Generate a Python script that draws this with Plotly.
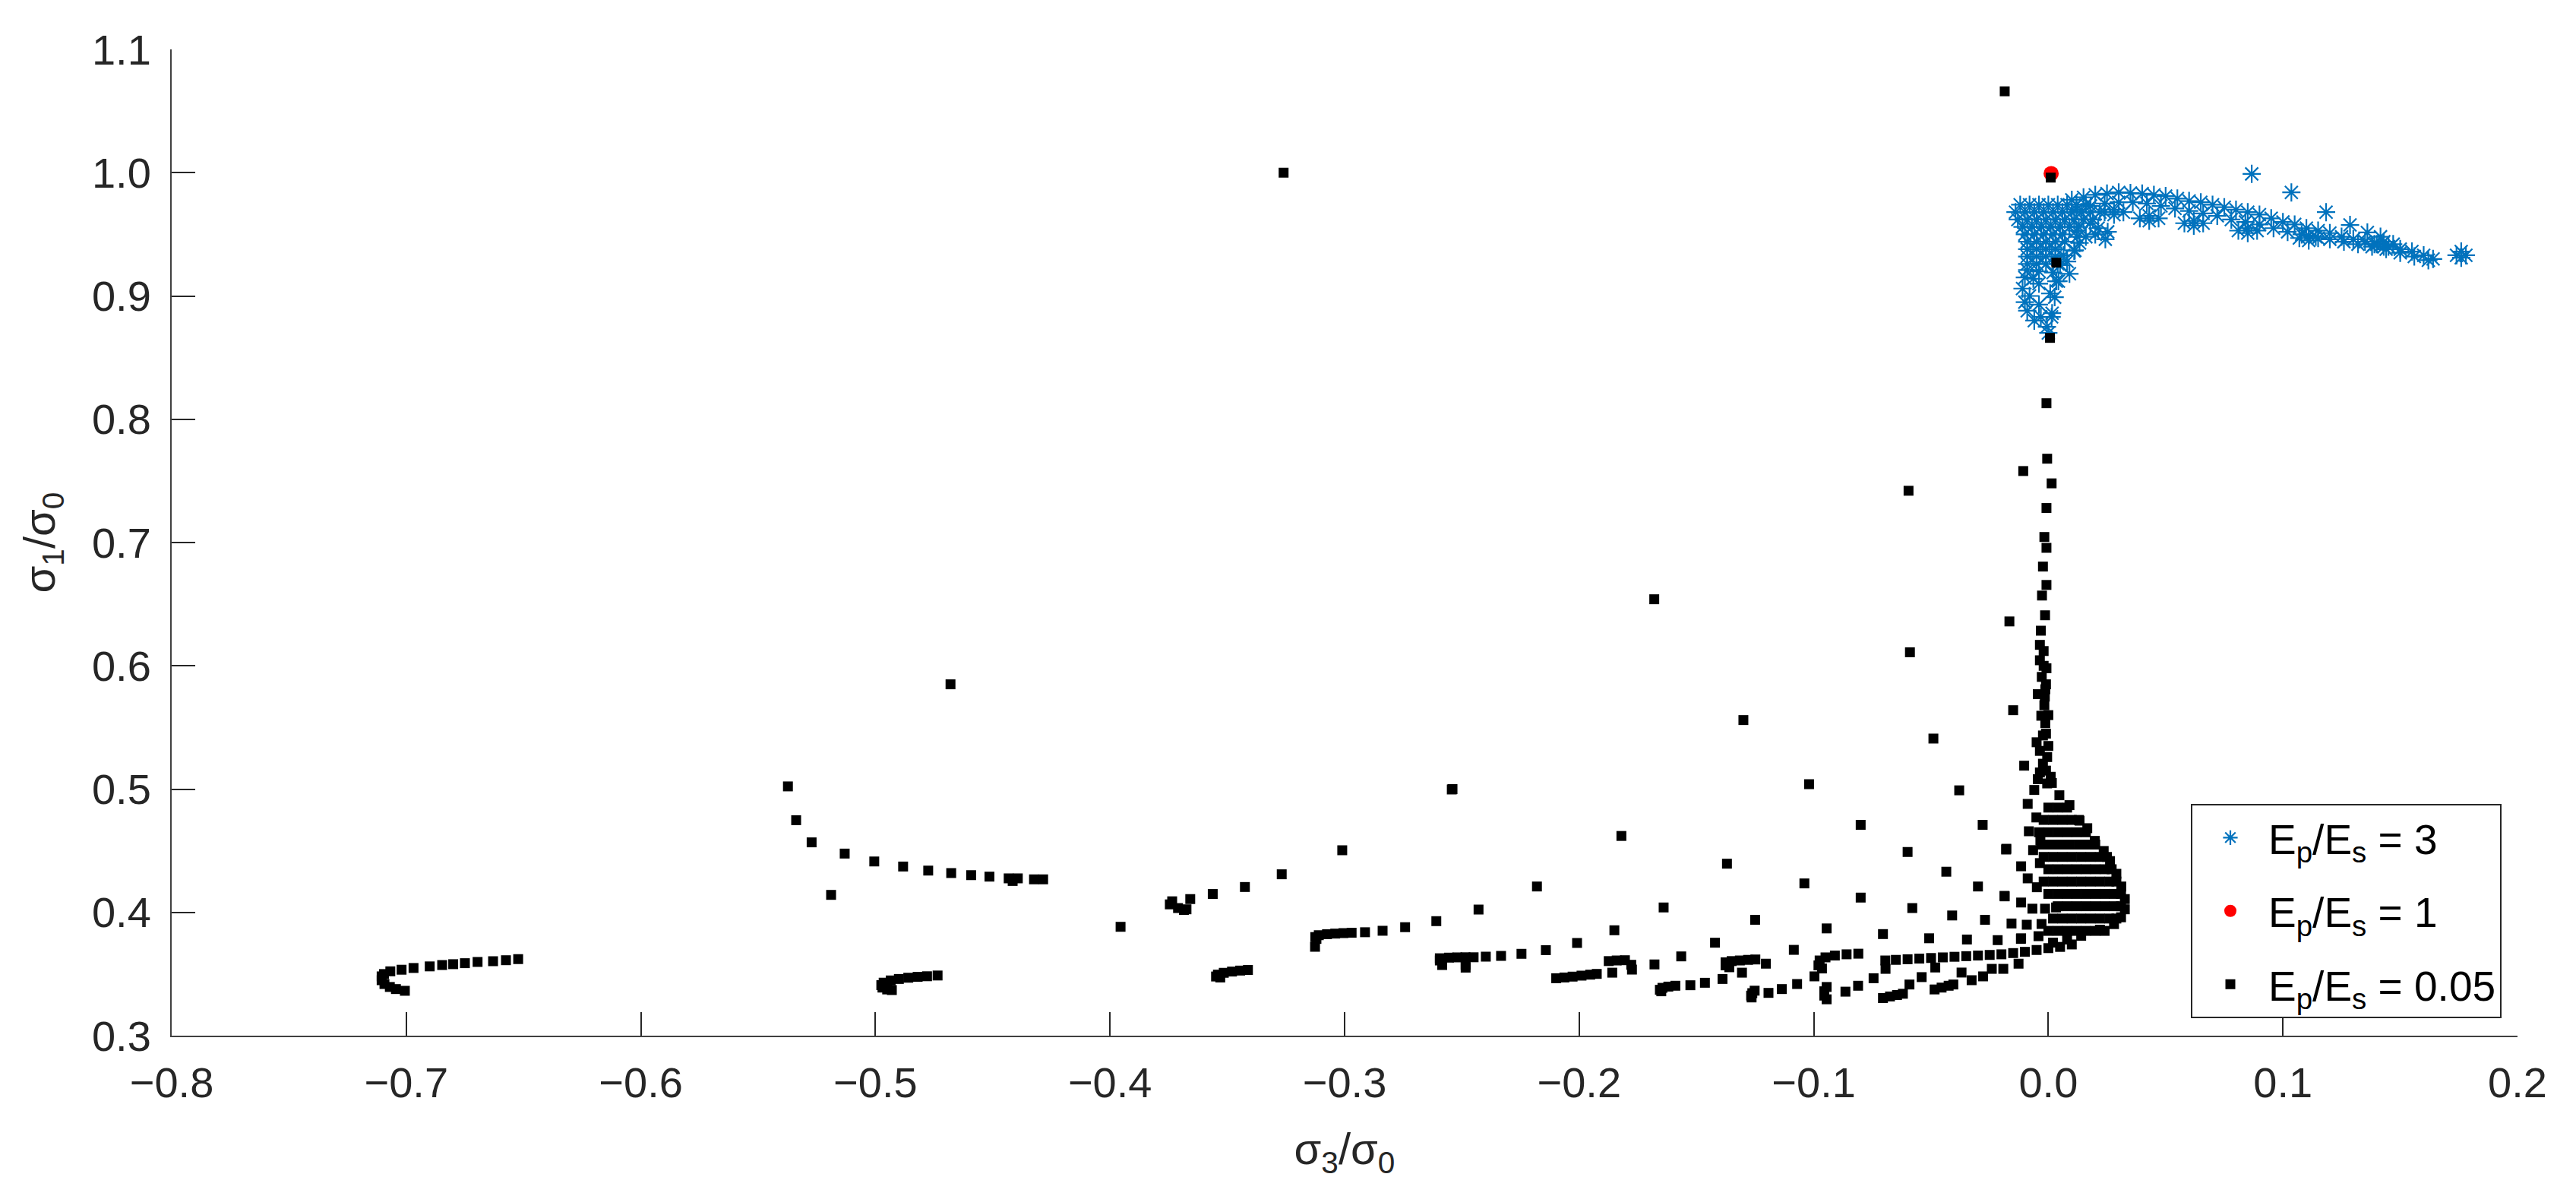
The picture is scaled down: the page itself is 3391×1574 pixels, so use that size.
import plotly.graph_objects as go

# ---- axis ticks -------------------------------------------------------------
x_ticks = [-0.8, -0.7, -0.6, -0.5, -0.4, -0.3, -0.2, -0.1, 0.0, 0.1, 0.2]
x_ticklabels = ["\u22120.8", "\u22120.7", "\u22120.6", "\u22120.5", "\u22120.4", "\u22120.3",
                "\u22120.2", "\u22120.1", "0.0", "0.1", "0.2"]
y_ticks = [0.3, 0.4, 0.5, 0.6, 0.7, 0.8, 0.9, 1.0, 1.1]
y_ticklabels = ["0.3", "0.4", "0.5", "0.6", "0.7", "0.8", "0.9", "1.0", "1.1"]

# ---- Ep/Es = 3 (blue asterisks) ---------------------------------------------
blob_x = [-0.012, -0.008, -0.004, 0.000, 0.004, 0.008, 0.012, 0.016,
          -0.014, -0.010, -0.006, -0.002, 0.002, 0.006, 0.010, 0.014, 0.018, 0.022,
          -0.013, -0.009, -0.005, -0.001, 0.003, 0.007, 0.011, 0.015, 0.019,
          -0.011, -0.007, -0.003, 0.001, 0.005, 0.009, 0.013,
          -0.010, -0.006, -0.002, 0.002, 0.006,
          -0.009, -0.005, -0.001, 0.003, 0.007,
          -0.009, -0.005, -0.001, 0.003,
          -0.009, -0.005, -0.001, 0.003,
          -0.009, -0.005, -0.001, 0.004]
blob_y = [0.974, 0.974, 0.974, 0.974, 0.974, 0.974, 0.974, 0.974,
          0.968, 0.968, 0.968, 0.968, 0.968, 0.968, 0.968, 0.968, 0.968, 0.968,
          0.962, 0.962, 0.962, 0.962, 0.962, 0.962, 0.962, 0.962, 0.962,
          0.956, 0.956, 0.956, 0.956, 0.956, 0.956, 0.956,
          0.950, 0.950, 0.950, 0.950, 0.950,
          0.944, 0.944, 0.944, 0.944, 0.944,
          0.938, 0.938, 0.938, 0.938,
          0.932, 0.932, 0.932, 0.932,
          0.926, 0.926, 0.926, 0.926]

tail_x = [-0.009, -0.004, 0.002, -0.010, -0.0064, 0.0034, -0.004, -0.011, 0.0008, -0.008,
          -0.010, -0.004, -0.009, -0.0032, 0.0014, -0.006, -0.0006, 0.0, 0.0043, 0.0027, 0.0016]
tail_y = [0.921, 0.920, 0.919, 0.915, 0.914, 0.912, 0.910, 0.906, 0.902, 0.900,
          0.895, 0.893, 0.888, 0.883, 0.883, 0.880, 0.875, 0.870, 0.912, 0.899, 0.886]

arc_x = [0.010, 0.015, 0.020, 0.025, 0.030, 0.035, 0.040, 0.045, 0.050, 0.055, 0.060, 0.065,
         0.070, 0.075, 0.080, 0.085, 0.090, 0.095, 0.100, 0.105, 0.110, 0.115, 0.120, 0.125,
         0.130, 0.135, 0.140, 0.145, 0.150, 0.155, 0.160, 0.164,
         0.012, 0.018, 0.024, 0.030, 0.036, 0.042, 0.048, 0.054, 0.060, 0.066, 0.072, 0.078,
         0.084, 0.090, 0.096, 0.102, 0.108, 0.114, 0.120, 0.126, 0.132, 0.138, 0.144, 0.150,
         0.156, 0.162]
arc_y = [0.978, 0.980, 0.982, 0.983, 0.984, 0.9835, 0.983, 0.982, 0.981, 0.979, 0.977, 0.976,
         0.974, 0.972, 0.970, 0.968, 0.966, 0.963, 0.960, 0.958, 0.955, 0.953, 0.951, 0.948,
         0.946, 0.944, 0.942, 0.940, 0.938, 0.936, 0.933, 0.930,
         0.970, 0.973, 0.975, 0.976, 0.976, 0.975, 0.973, 0.971, 0.969, 0.967, 0.965, 0.962,
         0.960, 0.958, 0.955, 0.952, 0.950, 0.948, 0.946, 0.944, 0.942, 0.940, 0.938, 0.935,
         0.932, 0.929]

clump_x = [0.024, 0.028, 0.032, 0.028, 0.039, 0.043, 0.047, 0.043, 0.058, 0.062, 0.066, 0.062,
           0.081, 0.085, 0.089, 0.085, 0.107, 0.111, 0.115, 0.111, 0.139, 0.143, 0.147, 0.143,
           0.174, 0.176, 0.178, 0.176]
clump_y = [0.968, 0.970, 0.968, 0.966, 0.963, 0.965, 0.963, 0.961, 0.959, 0.961, 0.959, 0.957,
           0.953, 0.955, 0.953, 0.951, 0.947, 0.949, 0.947, 0.945, 0.942, 0.944, 0.942, 0.940,
           0.933, 0.936, 0.933, 0.931]

scatter3_x = [0.0867, 0.1036, 0.1184, 0.1286, 0.136, 0.1416,
              0.012, 0.0133, 0.0113, 0.008, 0.0253, 0.0212, 0.0179, 0.016, 0.020, 0.0065, 0.005,
              0.009, 0.0243, 0.0123, 0.011]
scatter3_y = [0.999, 0.984, 0.968, 0.9576, 0.9515, 0.948,
              0.953, 0.943, 0.937, 0.928, 0.952, 0.955, 0.959, 0.948, 0.950, 0.933, 0.925,
              0.918, 0.946, 0.948, 0.9366]

# ---- Ep/Es = 1 (red dot) ----------------------------------------------------
red_x = [0.0012]
red_y = [0.9993]

# ---- Ep/Es = 0.05 (black squares) -------------------------------------------
sparse_x = [-0.0186, -0.326, 0.001, 0.0034, 0.0007, -0.0596, -0.168, -0.0107, -0.0166, -0.059,
            -0.468, -0.130, -0.049, -0.015, -0.0103, -0.102, -0.254, -0.038, -0.182, -0.080,
            -0.028, -0.137, -0.060, -0.018, -0.0435, -0.104, -0.030, -0.218, -0.164, -0.125,
            -0.080, -0.058, -0.041, -0.027, -0.0186, -0.185, -0.0945, -0.0705, -0.0508, -0.0347,
            -0.0216, -0.0117, -0.301]
sparse_y = [1.066, 1.000, 0.996, 0.927, 0.866, 0.742, 0.654, 0.758, 0.636, 0.611,
            0.585, 0.556, 0.541, 0.564, 0.519, 0.504, 0.500, 0.499, 0.462, 0.471,
            0.471, 0.4395, 0.449, 0.451, 0.433, 0.4235, 0.421, 0.421, 0.404, 0.394,
            0.412, 0.4035, 0.3975, 0.394, 0.413, 0.3855, 0.387, 0.3824, 0.379, 0.378,
            0.3775, 0.3785, 0.4504]

spine_x = [-0.0008, -0.0005, 0.0014, -0.0008, -0.0017, -0.0008, -0.0023, -0.0008, -0.0027, -0.0014,
           -0.0032, -0.0036, -0.0020, -0.0036, -0.0008, -0.0028, -0.0013, -0.0045, -0.0017, -0.0030,
           -0.0013, -0.0023, -0.0050, -0.0036, -0.0005, -0.0023, -0.0036, -0.0045, -0.0005, -0.0060,
           -0.001, 0.000, -0.001, 0.001, 0.000, -0.0015, -0.001, -0.002]
spine_y = [0.813, 0.768, 0.748, 0.728, 0.7045, 0.6957, 0.6805, 0.6656, 0.657, 0.641,
           0.6285, 0.617, 0.612, 0.6045, 0.598, 0.591, 0.581, 0.577, 0.568, 0.5595,
           0.5535, 0.5435, 0.538, 0.531, 0.526, 0.5206, 0.5135, 0.508, 0.5046, 0.4993,
           0.545, 0.535, 0.515, 0.510, 0.560, 0.575, 0.585, 0.600]

flare_x = [0.0015, 0.0047, 0.009, 0.0133, 0.0166, 0.0198, 0.0236, 0.0263, 0.029, 0.0311,
           0.0326, 0.0326, 0.031, 0.028, 0.022, 0.014, 0.008, 0.002,
           0.000, 0.004, 0.008,
           -0.002, 0.002, 0.006, 0.010, 0.013,
           -0.004, 0.000, 0.004, 0.008, 0.012, 0.016,
           -0.003, 0.001, 0.005, 0.009, 0.013, 0.017, 0.020,
           -0.002, 0.002, 0.006, 0.010, 0.014, 0.018, 0.022, 0.025,
           0.000, 0.004, 0.008, 0.012, 0.016, 0.020, 0.024, 0.027,
           -0.002, 0.002, 0.006, 0.010, 0.014, 0.018, 0.022, 0.026, 0.029,
           0.000, 0.004, 0.008, 0.012, 0.016, 0.020, 0.024, 0.028, 0.031,
           0.004, 0.008, 0.012, 0.016, 0.020, 0.024, 0.028, 0.031,
           0.002, 0.006, 0.010, 0.014, 0.018, 0.022, 0.026, 0.029,
           0.000, 0.004, 0.008, 0.012, 0.016, 0.020, 0.024]
flare_y = [0.505, 0.495, 0.487, 0.4744, 0.4683, 0.458, 0.4498, 0.4416, 0.4313, 0.421,
           0.4108, 0.4025, 0.396, 0.3905, 0.386, 0.381, 0.378, 0.3755,
           0.485, 0.485, 0.485,
           0.475, 0.475, 0.475, 0.475, 0.475,
           0.465, 0.465, 0.465, 0.465, 0.465, 0.465,
           0.455, 0.455, 0.455, 0.455, 0.455, 0.455, 0.455,
           0.445, 0.445, 0.445, 0.445, 0.445, 0.445, 0.445, 0.445,
           0.435, 0.435, 0.435, 0.435, 0.435, 0.435, 0.435, 0.435,
           0.425, 0.425, 0.425, 0.425, 0.425, 0.425, 0.425, 0.425, 0.425,
           0.415, 0.415, 0.415, 0.415, 0.415, 0.415, 0.415, 0.415, 0.415,
           0.405, 0.405, 0.405, 0.405, 0.405, 0.405, 0.405, 0.405,
           0.395, 0.395, 0.395, 0.395, 0.395, 0.395, 0.395, 0.395,
           0.385, 0.385, 0.385, 0.385, 0.385, 0.385, 0.385]

stair_x = [-0.0088, -0.0051, -0.0083, -0.0034, -0.0179, -0.0065, -0.0116, -0.0036, -0.0088, -0.0049,
           -0.0187, -0.0116, -0.0068, -0.0014, 0.0033, -0.0157, -0.0092, -0.0029, -0.0116, -0.0042]
stair_y = [0.488, 0.477, 0.4658, 0.4584, 0.4516, 0.4505, 0.4374, 0.440, 0.4276, 0.4204,
           0.4134, 0.408, 0.403, 0.403, 0.404, 0.391, 0.390, 0.3906, 0.379, 0.3807]

band_x = [0.010, 0.005, 0.000, -0.005, -0.010, -0.015, -0.020, -0.025, -0.030, -0.035,
          -0.040, -0.045, -0.050, -0.055, -0.060, -0.065, -0.0695,
          -0.081, -0.086, -0.091, -0.095, -0.0975, -0.098, -0.0965]
band_y = [0.374, 0.372, 0.371, 0.3695, 0.368, 0.367, 0.366, 0.3655, 0.365, 0.3645,
          0.364, 0.3635, 0.363, 0.3625, 0.362, 0.3615, 0.361,
          0.3665, 0.366, 0.365, 0.3635, 0.361, 0.357, 0.3545]

# small loops and the strings of points feeding them, near the bottom
hook_x = [-0.6523, -0.6575, -0.663, -0.6696, -0.675, -0.680, -0.6847, -0.690, -0.6969, -0.702,
          -0.7068, -0.7095, -0.7105, -0.7105, -0.7093, -0.707, -0.7044, -0.7006,
          -0.4735, -0.478, -0.482, -0.486, -0.490, -0.4935, -0.4965, -0.4975, -0.497, -0.495, -0.493,
          -0.3412, -0.3445, -0.348, -0.3515, -0.354, -0.3548, -0.353,
          -0.297, -0.3005, -0.304, -0.3075, -0.311, -0.3125, -0.312, -0.3126,
          -0.3745, -0.3735, -0.371, -0.3685, -0.3674, -0.3658,
          -0.2098, -0.2063, -0.2028, -0.199, -0.1953, -0.1925, -0.1859,
          -0.245, -0.2485, -0.252, -0.2555, -0.2594, -0.2594, -0.2584, -0.2484, -0.2484,
          -0.1874, -0.184, -0.1805, -0.1778,
          -0.1249, -0.128, -0.1315, -0.135, -0.1376, -0.1376, -0.136,
          -0.159, -0.162, -0.1645, -0.1656, -0.165,
          -0.1252, -0.1262, -0.1267, -0.1265,
          -0.0945, -0.0955, -0.0955, -0.0945,
          -0.0705, -0.0675, -0.0645, -0.062,
          -0.0485, -0.0455, -0.0425, -0.0405]
hook_y = [0.3621, 0.3612, 0.3604, 0.3598, 0.3588, 0.358, 0.3573, 0.3562, 0.3549, 0.3535,
          0.3522, 0.350, 0.3481, 0.345, 0.3419, 0.3395, 0.3378, 0.3364,
          0.3488, 0.3482, 0.3477, 0.347, 0.346, 0.3448, 0.343, 0.341, 0.339, 0.3375, 0.337,
          0.3533, 0.3528, 0.352, 0.351, 0.3495, 0.348, 0.3472,
          0.3835, 0.3832, 0.3828, 0.3823, 0.3815, 0.380, 0.3785, 0.3721,
          0.4065, 0.409, 0.4035, 0.402, 0.4025, 0.4108,
          0.3466, 0.3472, 0.3479, 0.3487, 0.3495, 0.3501, 0.3511,
          0.3636, 0.3636, 0.3635, 0.3633, 0.3628, 0.361, 0.3573, 0.3552, 0.3575,
          0.3605, 0.361, 0.3612, 0.3575,
          0.3618, 0.3615, 0.361, 0.3605, 0.3595, 0.357, 0.3555,
          0.3405, 0.3398, 0.3388, 0.3372, 0.336,
          0.3365, 0.3345, 0.3325, 0.331,
          0.3395, 0.336, 0.3325, 0.3295,
          0.3305, 0.3318, 0.333, 0.334,
          0.3375, 0.339, 0.3405, 0.3415]

chain_x = [-0.5373, -0.5338, -0.5272, -0.5131, -0.5005, -0.4882, -0.4775, -0.4677, -0.4592, -0.4514,
           -0.4432, -0.4415, -0.4393, -0.4324, -0.4285, -0.5189, -0.3955, -0.3562, -0.3425, -0.3268,
           -0.2543, -0.2429, -0.2609, -0.2742, -0.2838, -0.2913,
           -0.2009, -0.2142, -0.2246, -0.2333, -0.2398,
           -0.1421, -0.1565, -0.1679, -0.1775,
           -0.1204, -0.1306, -0.1389, -0.1464, -0.1526,
           -0.1085, -0.0997, -0.1071, -0.1136, -0.1193,
           -0.0865, -0.0811, -0.0745, -0.0694, -0.0592, -0.054, -0.0482, -0.037, -0.0327,
           -0.0278, -0.0241, -0.0192, -0.0127]
chain_y = [0.5022, 0.4748, 0.4568, 0.4477, 0.4413, 0.4372, 0.4339, 0.4319, 0.4302, 0.429,
           0.4276, 0.4255, 0.4276, 0.4268, 0.4268, 0.4142, 0.3883, 0.4149, 0.4206, 0.4309,
           0.4997, 0.4023, 0.3929, 0.388, 0.3851, 0.3839,
           0.3752, 0.3694, 0.3664, 0.3647, 0.3641,
           0.3754, 0.3643, 0.3578, 0.3536,
           0.3584, 0.3511, 0.346, 0.3429, 0.3409,
           0.3696, 0.3481, 0.3419, 0.3378, 0.3347,
           0.3357, 0.3405, 0.3466, 0.3542, 0.3415, 0.3475, 0.3553, 0.3512, 0.345,
           0.3481, 0.3542, 0.3542, 0.3584]

INK = "#262626"
FONT = "Liberation Sans, Arial, Helvetica, sans-serif"

blue_x = blob_x + tail_x + arc_x + clump_x + scatter3_x
blue_y = blob_y + tail_y + arc_y + clump_y + scatter3_y
black_x = sparse_x + spine_x + flare_x + stair_x + band_x + hook_x + chain_x
black_y = sparse_y + spine_y + flare_y + stair_y + band_y + hook_y + chain_y

fig = go.Figure()

fig.add_trace(go.Scatter(
    x=blue_x, y=blue_y, mode="markers", name="E<sub>p</sub>/E<sub>s</sub> = 3",
    legendgroup="a",
    marker=dict(symbol="asterisk-open", size=20, color="#0072BD",
                line=dict(color="#0072BD", width=2.2)),
))
fig.add_trace(go.Scatter(
    x=red_x, y=red_y, mode="markers", name="E<sub>p</sub>/E<sub>s</sub> = 1",
    legendgroup="b",
    marker=dict(symbol="circle", size=20, color="#FF0000"),
))
fig.add_trace(go.Scatter(
    x=black_x, y=black_y, mode="markers", name="E<sub>p</sub>/E<sub>s</sub> = 0.05",
    legendgroup="c",
    marker=dict(symbol="square", size=13, color="#000000"),
))

axis_common = dict(
    showgrid=False, zeroline=False, showline=True, linecolor="#404040", linewidth=2,
    ticks="inside", ticklen=31, tickwidth=1.5, tickcolor=INK, mirror=False,
    tickfont=dict(family=FONT, size=56, color=INK),
)

fig.update_xaxes(
    range=[-0.8, 0.2], tickvals=x_ticks, ticktext=x_ticklabels,
    title=dict(text="\u03c3<sub>3</sub>/\u03c3<sub>0</sub>", font=dict(family=FONT, size=58, color=INK),
               standoff=36),
    ticklabelstandoff=12,
    **axis_common,
)
fig.update_yaxes(
    range=[0.3, 1.1], tickvals=y_ticks, ticktext=y_ticklabels,
    title=dict(text="\u03c3<sub>1</sub>/\u03c3<sub>0</sub>", font=dict(family=FONT, size=58, color=INK),
               standoff=30),
    ticklabelstandoff=14,
    **axis_common,
)

fig.update_layout(
    width=3391, height=1574,
    margin=dict(l=226, r=77, t=65, b=211, autoexpand=False),
    plot_bgcolor="white", paper_bgcolor="white",
    font=dict(family=FONT, color=INK),
    legend=dict(
        x=0.9932, y=0.0177, xanchor="right", yanchor="bottom",
        bgcolor="white", bordercolor=INK, borderwidth=2,
        font=dict(family=FONT, size=55, color="#000000"),
        tracegroupgap=22, itemwidth=90,
    ),
)

fig.write_html("out.html", config={"displayModeBar": False},
               post_script="document.body.style.margin='0';")
